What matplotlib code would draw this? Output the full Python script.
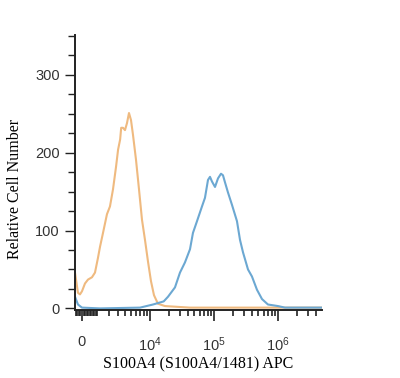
import numpy as np
import matplotlib
matplotlib.use("Agg")
import matplotlib.pyplot as plt
from matplotlib.ticker import FixedLocator, FixedFormatter

# isotype control (orange) - intensity vs count
iso_x = [-444, -253, -126, 0, 189, 381, 643, 849, 1064, 1215, 1454, 1793,
         2076, 2385, 2723, 2968, 3231, 3372, 3625, 3925, 4244, 4585, 4951,
         5342, 5983, 6692, 7475, 8350, 9330, 10400, 11600, 13400, 17290,
         42600, 300000, 4920000]
iso_y = [46, 20, 18, 22, 32, 37, 40, 46, 65, 79, 97, 121,
         131, 153, 182, 204, 217, 232, 232, 229, 238, 251, 242,
         223, 191, 153, 114, 88, 60, 35, 17, 6, 3,
         1, 1, 1]

# S100A4 stained (blue)
s100_x = [-444, -253, 0, 1215, 6944, 11185, 16500, 19290, 24800, 29700,
          35500, 42600, 47400, 54800, 65600, 73000, 81400, 87500, 94000,
          104800, 116700, 130000, 139600, 150000, 167000, 193000, 231000,
          257600, 287000, 343500, 396000, 474000, 568000, 704500, 1010000,
          1300000, 4920000]
s100_y = [15, 5, 1, 0, 1, 5, 9, 15, 27, 46,
          59, 76, 97, 112, 131, 142, 165, 169, 163,
          156, 167, 173, 171, 162, 149, 133, 112,
          88, 72, 50, 41, 24, 12, 5, 3,
          1, 1]

xticks = [0, 1e4, 1e5, 1e6]
xtick_labels = ["0", "$10^4$", "$10^5$", "$10^6$"]
yticks = [0, 100, 200, 300]

plt.rcParams["mathtext.default"] = "regular"
plt.rcParams["mathtext.fontset"] = "custom"
plt.rcParams["mathtext.rm"] = "Liberation Sans"

fig = plt.figure(figsize=(4, 3.78), dpi=100)
ax = fig.add_axes([0.1875, 0.18, 0.6175, 0.727])

ax.plot(iso_x, iso_y, c="#EFBA80", lw=1.5)
ax.plot(s100_x, s100_y, c="#6CA8D2", lw=1.5)

ax.set_xscale("asinh", linear_width=1750)
ax.set_xlim(-444, 4.92e6)
ax.set_ylim(-2, 351)

minor = [-k * 100 for k in range(1, 5)]
for d in [100, 1000, 10000, 100000, 1000000]:
    minor += [k * d for k in range(1, 10) if k * d < 4.92e6]
minor = [m for m in minor if m not in xticks]
ax.xaxis.set_major_locator(FixedLocator(xticks))
ax.xaxis.set_major_formatter(FixedFormatter(xtick_labels))
ax.xaxis.set_minor_locator(FixedLocator(minor))

ax.set_yticks(yticks)
ax.yaxis.set_minor_locator(FixedLocator(np.arange(25, 351, 25)))

for s in ["top", "right"]:
    ax.spines[s].set_visible(False)
for s in ["left", "bottom"]:
    ax.spines[s].set_linewidth(1.4)
    ax.spines[s].set_color("#222222")

ax.tick_params(axis="x", which="major", length=8, width=1.2, pad=10,
               labelsize=10.5, labelcolor="#333333", color="#222222")
ax.tick_params(axis="x", which="minor", length=4, width=1.2, color="#222222")
ax.tick_params(axis="y", which="major", length=7, width=1.0, pad=4,
               labelsize=10.5, labelcolor="#333333", color="#222222")
ax.tick_params(axis="y", which="minor", length=5, width=1.0, color="#222222")
for lab in ax.get_xticklabels() + ax.get_yticklabels():
    lab.set_family("Liberation Sans")

ax.set_xlabel("S100A4 (S100A4/1481) APC", family="Liberation Serif",
              fontsize=11.5, labelpad=2)
ax.set_ylabel("Relative Cell Number", family="Liberation Serif",
              fontsize=11.5)
ax.yaxis.set_label_coords(-0.21, 0.44)

fig.savefig("out.png", dpi=100)
